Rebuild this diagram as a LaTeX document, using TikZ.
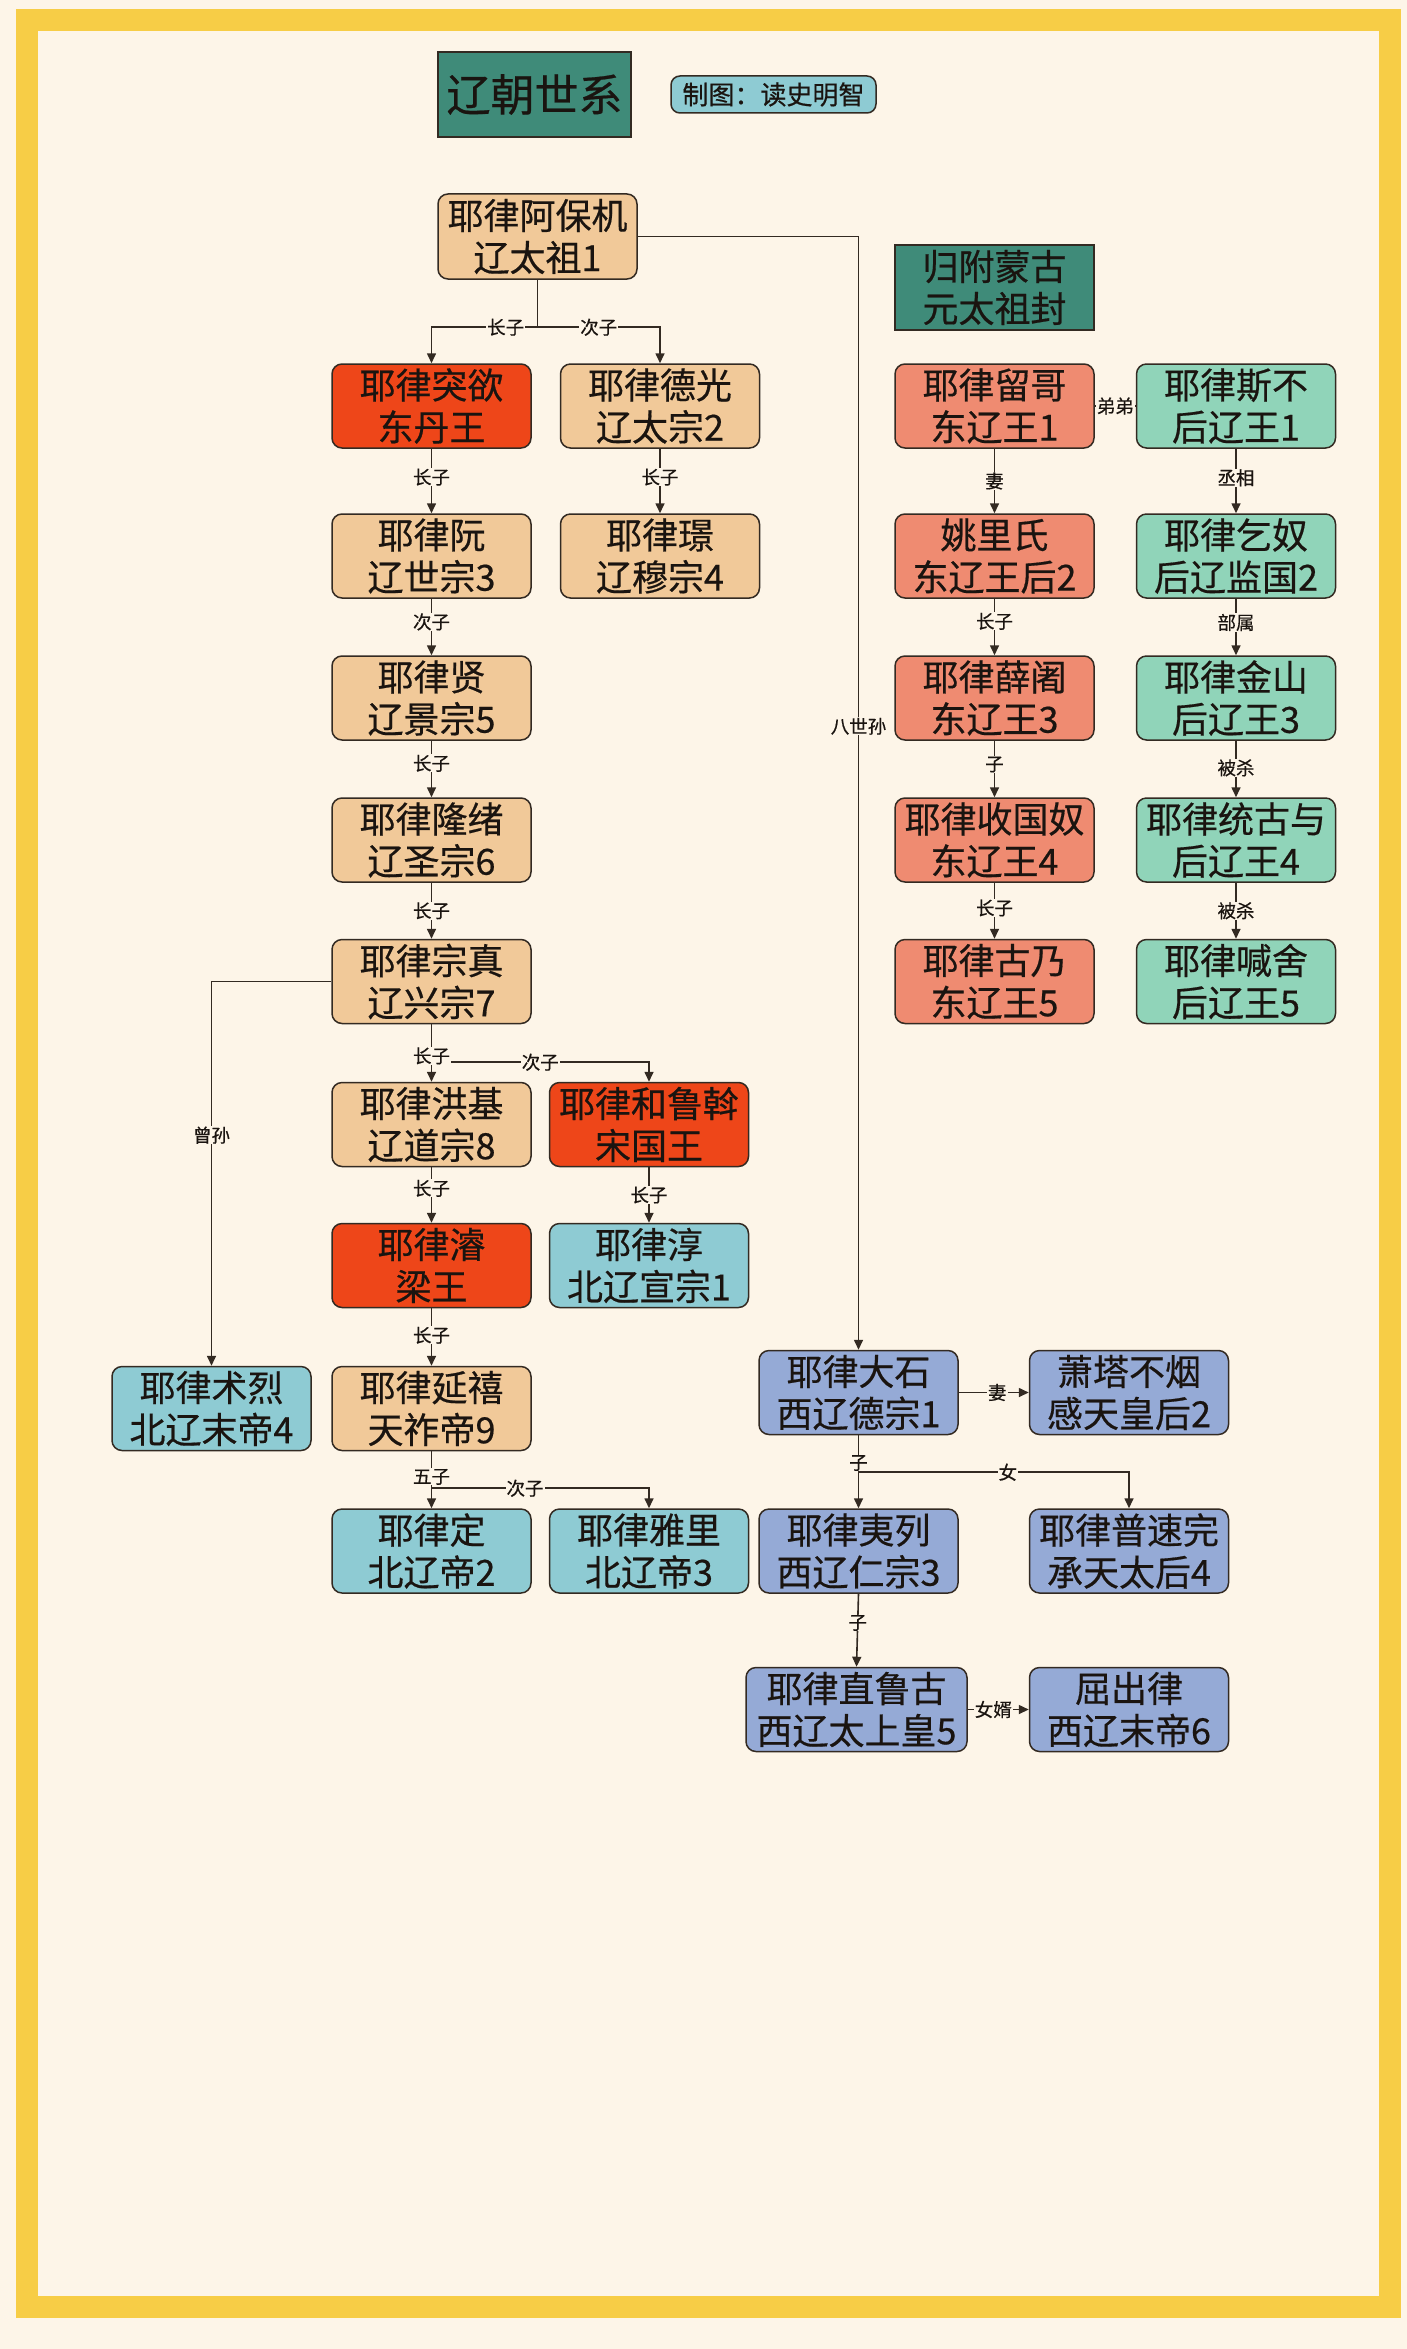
\documentclass[tikz,border=0pt]{standalone}
\usepackage{fontspec}
\setmainfont{Noto Sans CJK SC}[FakeBold=0.5]
\usetikzlibrary{arrows.meta,positioning}
\definecolor{bg}{HTML}{FDF5E8}
\definecolor{framec}{HTML}{F7CD46}
\definecolor{tanc}{HTML}{F1C999}
\definecolor{redc}{HTML}{EE4619}
\definecolor{salmonc}{HTML}{EF8B71}
\definecolor{mintc}{HTML}{90D4B9}
\definecolor{lbluec}{HTML}{8ECBD3}
\definecolor{peric}{HTML}{95AAD6}
\definecolor{tealc}{HTML}{3F8B79}
\definecolor{linec}{HTML}{332A22}
\definecolor{txt}{HTML}{1A1410}
\tikzset{
  person/.style={draw=linec, line width=1.5pt, rounded corners=10pt,
    minimum width=199pt, minimum height=84pt, inner xsep=2.5pt, inner ysep=0pt,
    align=center, text=txt, font=\fontsize{36}{42}\selectfont},
  tanbox/.style={person, fill=tanc},
  redbox/.style={person, fill=redc},
  salbox/.style={person, fill=salmonc},
  mintbox/.style={person, fill=mintc},
  bluebox/.style={person, fill=lbluec},
  peribox/.style={person, fill=peric},
  tealbox/.style={person, fill=tealc, rounded corners=0pt},
  lbl/.style={fill=bg, inner xsep=1pt, inner ysep=0.5pt, text=txt,
    font=\fontsize{18.5}{19}\selectfont},
  conn/.style={draw=linec, line width=1.6pt, -{Triangle[length=10pt,width=9pt]}},
  plainconn/.style={draw=linec, line width=1.6pt},
}
\begin{document}
\begin{tikzpicture}[x=1pt,y=-1pt]
\useasboundingbox (0,0) rectangle (1407,2349);
\fill[bg] (0,0) rectangle (1407,2349);
\draw[framec, line width=22pt] (27,20) rectangle (1390,2306.5);

% title
\node[tealbox, minimum width=193pt, minimum height=85pt, font=\fontsize{44}{48}\selectfont] (title) at (534.5,94.5) {辽朝世系};
\node[bluebox, minimum width=205pt, minimum height=37pt, rounded corners=9pt, font=\fontsize{26}{30}\selectfont] (credit) at (773.5,94.5) {制图：读史明智};

% Liao main
\node[tanbox, minimum height=85pt] (abj) at (537.5,236.5) {耶律阿保机\\辽太祖1};
\node[redbox] (tuyu) at (431.5,406) {耶律突欲\\东丹王};
\node[tanbox] (deguang) at (660,406) {耶律德光\\辽太宗2};
\node[tanbox] (ruan) at (431.5,556) {耶律阮\\辽世宗3};
\node[tanbox] (jing) at (660,556) {耶律璟\\辽穆宗4};
\node[tanbox] (xian) at (431.5,698) {耶律贤\\辽景宗5};
\node[tanbox] (longxu) at (431.5,840) {耶律隆绪\\辽圣宗6};
\node[tanbox] (zongzhen) at (431.5,981.5) {耶律宗真\\辽兴宗7};
\node[tanbox] (hongji) at (431.5,1124.5) {耶律洪基\\辽道宗8};
\node[redbox] (heluwo) at (649,1124.5) {耶律和鲁斡\\宋国王};
\node[redbox] (jun) at (431.5,1265.5) {耶律濬\\梁王};
\node[bluebox] (chun) at (649,1265.5) {耶律淳\\北辽宣宗1};
\node[bluebox] (shulie) at (211.5,1408.5) {耶律术烈\\北辽末帝4};
\node[tanbox] (yanxi) at (431.5,1408.5) {耶律延禧\\天祚帝9};
\node[bluebox] (ding) at (431.5,1551) {耶律定\\北辽帝2};
\node[bluebox] (yali) at (649,1551) {耶律雅里\\北辽帝3};

% Western Liao
\node[peribox] (dashi) at (858.5,1392.5) {耶律大石\\西辽德宗1};
\node[peribox] (xiaota) at (1129,1392.5) {萧塔不烟\\感天皇后2};
\node[peribox] (yilie) at (858.5,1551) {耶律夷列\\西辽仁宗3};
\node[peribox] (pusuwan) at (1129,1551) {耶律普速完\\承天太后4};
\node[peribox, minimum width=221pt] (zhilugu) at (856.5,1709.5) {耶律直鲁古\\西辽太上皇5};
\node[peribox] (quchulv) at (1129,1709.5) {屈出律\\西辽末帝6};

% Eastern / Later Liao
\node[tealbox, minimum height=85pt] (guifu) at (994.5,287.5) {归附蒙古\\元太祖封};
\node[salbox] (liuge) at (994.5,406) {耶律留哥\\东辽王1};
\node[salbox] (yaolishi) at (994.5,556) {姚里氏\\东辽王后2};
\node[salbox] (xueshe) at (994.5,698) {耶律薛阇\\东辽王3};
\node[salbox] (shouguonu) at (994.5,840) {耶律收国奴\\东辽王4};
\node[salbox] (gunai) at (994.5,981.5) {耶律古乃\\东辽王5};
\node[mintbox] (sibu) at (1236,406) {耶律斯不\\后辽王1};
\node[mintbox] (qinu) at (1236,556) {耶律乞奴\\后辽监国2};
\node[mintbox] (jinshan) at (1236,698) {耶律金山\\后辽王3};
\node[mintbox] (tonggu) at (1236,840) {耶律统古与\\后辽王4};
\node[mintbox] (hanshe) at (1236,981.5) {耶律喊舍\\后辽王5};

% ---- branch connectors first ----
\draw[conn] (abj.south) -- ++(0,47.5) -| node[lbl,pos=0.15]{长子} (tuyu.north);
\draw[conn] (abj.south) -- ++(0,47.5) -| node[lbl,pos=0.25]{次子} (deguang.north);
\draw[conn] (abj.east) -| node[lbl,pos=0.72]{八世孙} (dashi.north);
\draw[conn] (zongzhen.west) -| node[lbl,pos=0.7]{曾孙} (shulie.north);
\draw[conn] (zongzhen.south) -- ++(0,38) -| node[lbl,pos=0.25]{次子} (heluwo.north);
\draw[conn] (yanxi.south) -- ++(0,37) -| node[lbl,pos=0.215]{次子} (yali.north);
\draw[conn] (dashi.south) -- ++(0,37) -| node[lbl,pos=0.276]{女} (pusuwan.north);

% ---- straight connectors ----
\draw[conn] (tuyu) -- node[lbl,pos=0.44]{长子} (ruan);
\draw[conn] (deguang) -- node[lbl,pos=0.44]{长子} (jing);
\draw[conn] (ruan) -- node[lbl,pos=0.41]{次子} (xian);
\draw[conn] (xian) -- node[lbl,pos=0.4]{长子} (longxu);
\draw[conn] (longxu) -- node[lbl,pos=0.5]{长子} (zongzhen);
\draw[conn] (zongzhen) -- node[lbl,pos=0.55]{长子} (hongji);
\draw[conn] (hongji) -- node[lbl,pos=0.38]{长子} (jun);
\draw[conn] (heluwo) -- node[lbl,pos=0.5]{长子} (chun);
\draw[conn] (jun) -- node[lbl,pos=0.47]{长子} (yanxi);
\draw[conn] (yanxi) -- node[lbl,pos=0.45]{五子} (ding);

\draw[plainconn] (liuge) -- node[lbl,pos=0.5]{弟弟} (sibu);
\draw[conn] (liuge) -- node[lbl,pos=0.5]{妻} (yaolishi);
\draw[conn] (yaolishi) -- node[lbl,pos=0.4]{长子} (xueshe);
\draw[conn] (xueshe) -- node[lbl,pos=0.42]{子} (shouguonu);
\draw[conn] (shouguonu) -- node[lbl,pos=0.45]{长子} (gunai);
\draw[conn] (sibu) -- node[lbl,pos=0.45]{丞相} (qinu);
\draw[conn] (qinu) -- node[lbl,pos=0.42]{部属} (jinshan);
\draw[conn] (jinshan) -- node[lbl,pos=0.48]{被杀} (tonggu);
\draw[conn] (tonggu) -- node[lbl,pos=0.5]{被杀} (hanshe);

\draw[conn] (dashi) -- node[lbl,pos=0.55]{妻} (xiaota);
\draw[conn] (dashi) -- node[lbl,pos=0.38]{子} (yilie);
\draw[conn] (yilie.south) -- node[lbl,pos=0.4]{子} (zhilugu.north);
\draw[conn] (zhilugu) -- node[lbl,pos=0.42]{女婿} (quchulv);
\end{tikzpicture}
\end{document}
